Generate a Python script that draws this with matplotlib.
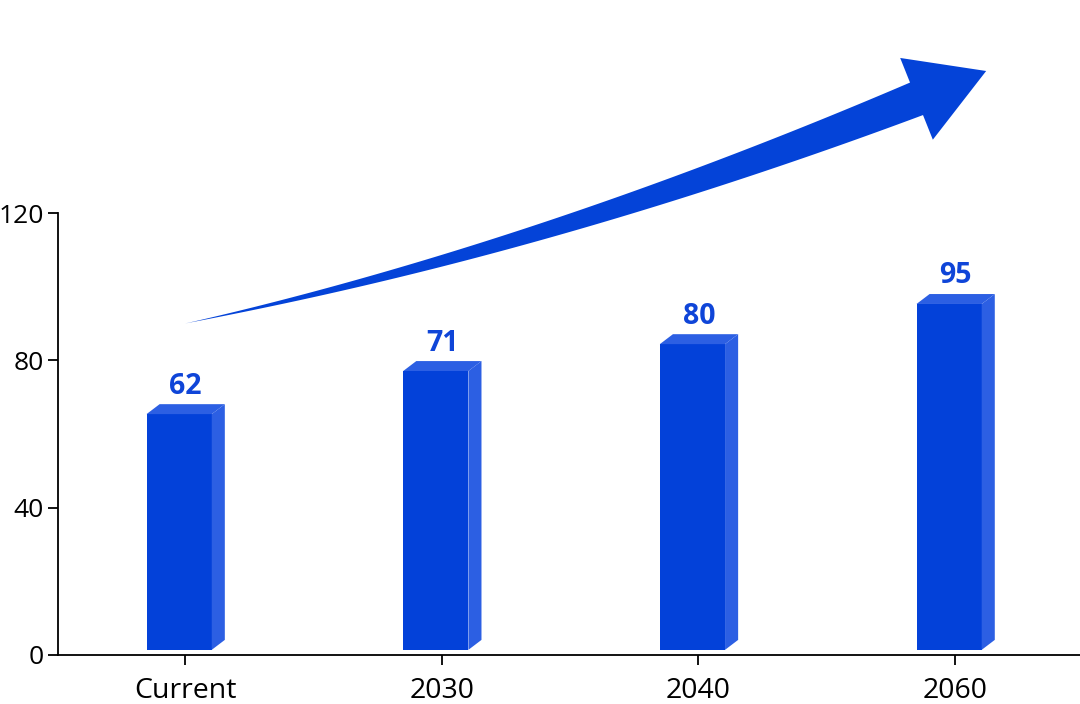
import numpy as np
import matplotlib
matplotlib.use("Agg")
from matplotlib import pyplot as plt
from matplotlib.patches import Polygon, Rectangle

# Data
categories = ["Current", "2030", "2040", "2060"]
bar_tops = [65.4, 77.1, 84.4, 95.3]      # bar heights as drawn
bar_labels = ["62", "71", "80", "95"]    # values printed above the bars
y_ticks = [0, 40, 80, 120]

front_col = "#0341d9"
side_col = "#2c5fe3"
text_blue = "#0f45d8"

plt.rcParams['font.family'] = ['Open Sans', 'DejaVu Sans']

fig = plt.figure(figsize=(10.8, 7.04), dpi=100)
ax = fig.add_axes([58 / 1080, 49 / 704, 1 - 58 / 1080, 442 / 704])
ax.set_xlim(-0.495, 3.487)
ax.set_ylim(0, 120)

x = np.arange(len(categories))
base = 1.4
w = 0.254      # front face width
dx = 0.051     # depth (x)
dy = 2.7       # depth (y)

for xi, top, lab in zip(x, bar_tops, bar_labels):
    xl = xi - 0.15
    xr = xl + w
    ax.add_patch(Rectangle((xl, base), w, top - base, facecolor=front_col,
                           edgecolor='none', zorder=3))
    ax.add_patch(Polygon([(xr, base), (xr + dx, base + dy), (xr + dx, top + dy), (xr, top)],
                         closed=True, facecolor=side_col, edgecolor='none', zorder=3))
    ax.add_patch(Polygon([(xl, top), (xl + dx, top + dy), (xr + dx, top + dy), (xr, top)],
                         closed=True, facecolor=side_col, edgecolor='none', zorder=3))
    ax.text(xl + (w + dx) / 2, top + 7.6, lab, ha='center', va='center',
            fontsize=20.5, fontweight='bold', color=text_blue)

# Axes styling
for s in ['top', 'right']:
    ax.spines[s].set_visible(False)
ax.spines['left'].set_linewidth(1.3)
ax.spines['bottom'].set_linewidth(1.3)
ax.set_xticks(x)
ax.set_xticklabels(categories, fontweight='medium')
ax.set_yticks(y_ticks)
ax.tick_params(axis='both', length=7, width=1.3, pad=3, color='black')
ax.tick_params(axis='y', labelsize=19)
ax.tick_params(axis='x', labelsize=20.5, pad=9)

# Trend arrow (tapered curve built in display space)
p0 = np.array([0.0, 90.0])
p1 = np.array([1.38, 110.0])
p2 = np.array([2.85, 151.0])
t = np.linspace(0, 1, 120)
curve = ((1 - t)[:, None] ** 2) * p0 + (2 * (1 - t) * t)[:, None] * p1 + (t[:, None] ** 2) * p2
pts = ax.transData.transform(curve)
d = np.gradient(pts, axis=0)
d /= np.linalg.norm(d, axis=1)[:, None]
n = np.column_stack([-d[:, 1], d[:, 0]])
half = 17.5 * t ** 1.1
upper = pts + n * half[:, None]
lower = pts - n * half[:, None]
B = pts[-1]
u = d[-1]
nn = n[-1]
head = [B + nn * 44, B + u * 75, B - nn * 44]
poly_disp = np.vstack([upper, head, lower[::-1]])
poly = ax.transData.inverted().transform(poly_disp)
ax.add_patch(Polygon(poly, closed=True, facecolor="#0443d8", edgecolor='none',
                     clip_on=False, zorder=4))

fig.savefig("out.png", dpi=100)
